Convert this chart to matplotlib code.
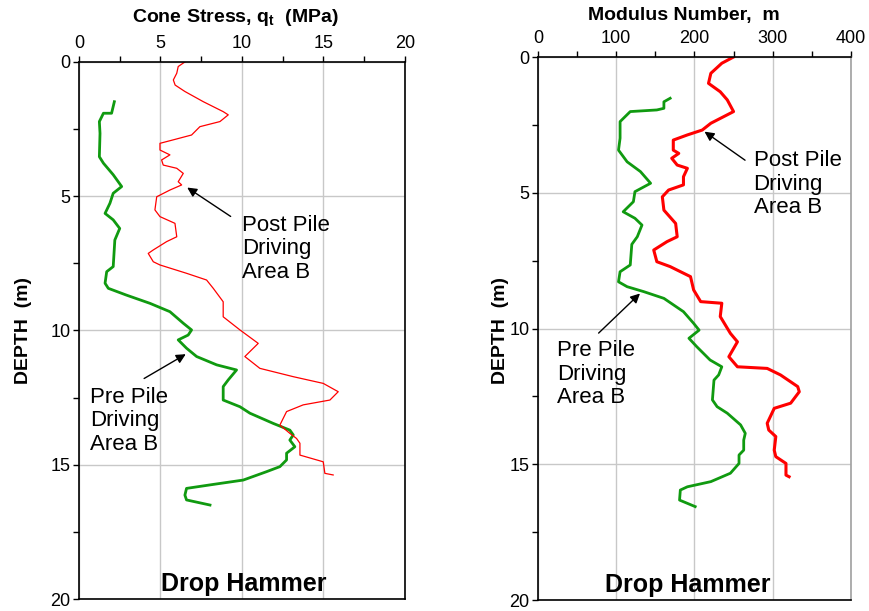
import matplotlib
matplotlib.use("Agg")
import matplotlib.pyplot as plt
from matplotlib.ticker import MultipleLocator

plt.rcParams['font.family'] = ['Liberation Sans', 'DejaVu Sans']
plt.rcParams['mathtext.fontset'] = 'custom'
plt.rcParams['mathtext.rm'] = 'Liberation Sans'
plt.rcParams['mathtext.bf'] = 'Liberation Sans:bold'

# Cone stress, pre pile driving (green)
pre_qt_depth = [1.48, 1.91, 1.91, 2.22, 2.66, 3.53, 3.77, 4.2, 4.64, 4.89, 5.26, 5.64, 5.88,
                6.2, 6.63, 7.62, 7.81, 8.24, 8.43, 8.68, 8.99, 9.3, 9.73, 9.98, 10.17, 10.35,
                10.66, 10.97, 11.28, 11.47, 11.84, 12.09, 12.59, 12.84, 13.08, 13.46, 13.71,
                13.89, 14.08, 14.33, 14.57, 14.82, 15.07, 15.26, 15.57, 15.75, 15.88, 16.13,
                16.31, 16.5]
pre_qt = [2.17, 2.0, 1.5, 1.25, 1.29, 1.25, 1.5, 2.1, 2.62, 2.1, 1.9, 1.6, 2.1,
          2.5, 2.2, 2.1, 1.7, 1.6, 1.8, 2.9, 4.36, 5.58, 6.4, 6.91, 6.7, 6.09,
          6.6, 7.22, 8.45, 9.67, 9.16, 8.85, 8.85, 9.88, 10.49, 11.92, 12.94,
          13.15, 12.94, 13.25, 12.74, 12.74, 12.33, 11.5, 10.08, 8.04, 6.6, 6.5,
          6.6, 8.04]

# Cone stress, post pile driving (red)
post_qt_depth = [0, 0.17, 0.42, 0.67, 0.86, 1.1, 1.48, 1.85, 1.97, 2.22, 2.41, 2.72, 2.9,
                 3.03, 3.28, 3.46, 3.65, 3.84, 3.96, 4.15, 4.46, 4.58, 4.77, 5.02, 5.51,
                 5.76, 6.01, 6.51, 6.69, 7.0, 7.13, 7.44, 7.56, 7.87, 8.12, 8.43, 8.93,
                 9.49, 9.98, 10.48, 10.97, 11.41, 11.72, 11.97, 12.28, 12.59, 12.77, 13.02,
                 13.52, 13.83, 14.02, 14.2, 14.64, 14.89, 15.32, 15.38]
post_qt = [6.5, 6.09, 6.0, 5.79, 5.9, 6.5, 7.63, 8.85, 9.16, 8.65, 7.42, 6.91, 5.79,
           4.97, 4.97, 5.58, 5.07, 5.17, 6.0, 6.4, 6.09, 6.3, 5.58, 4.77, 4.66,
           4.97, 5.89, 6.0, 5.38, 4.56, 4.25, 4.56, 4.97, 6.6, 7.83, 8.24, 8.85,
           8.85, 9.88, 11.0, 10.18, 11.1, 13.15, 14.99, 15.91, 15.4, 13.76, 12.74,
           12.33, 12.94, 13.35, 13.56, 13.56, 14.99, 15.09, 15.6]

# Modulus number, pre pile driving (green)
pre_m_depth = [1.52, 1.65, 1.89, 1.95, 2.01, 2.38, 2.99, 3.43, 3.86, 4.22, 4.65, 4.96, 5.33,
               5.7, 5.94, 6.19, 6.62, 6.9, 7.66, 7.91, 8.28, 8.46, 8.64, 8.89, 9.38, 9.81,
               10.06, 10.36, 10.67, 11.16, 11.41, 11.71, 11.9, 12.63, 12.88, 13.12, 13.55,
               13.86, 14.11, 14.48, 14.66, 14.97, 15.33, 15.64, 15.83, 15.95, 16.32, 16.56]
pre_m = [169, 161, 161, 152, 118, 105, 105, 103, 114, 131, 144, 124, 122,
         109, 124, 133, 127, 120, 118, 105, 103, 114, 135, 161, 186, 199,
         206, 193, 203, 220, 235, 231, 225, 223, 229, 242, 259,
         265, 263, 263, 257, 257, 246, 221, 191, 182, 181, 201]

# Modulus number, post pile driving (red)
post_m_depth = [0, 0.23, 0.6, 0.97, 1.28, 1.58, 2.01, 2.44, 2.69, 2.87, 3.06, 3.43, 3.55,
                3.73, 3.98, 4.1, 4.41, 4.71, 4.9, 5.15, 5.64, 6.13, 6.62, 6.8, 7.11, 7.54,
                7.72, 8.09, 8.58, 9.01, 9.07, 9.56, 10.18, 10.49, 11.04, 11.41, 11.47,
                11.71, 12.14, 12.33, 12.75, 12.94, 13.49, 13.74, 13.98, 14.48, 14.72,
                14.97, 15.4, 15.46]
post_m = [250, 235, 221, 218, 233, 242, 250, 221, 210, 191, 173, 173, 180,
          171, 178, 191, 186, 186, 167, 159, 161, 176, 178, 165, 148, 152,
          169, 195, 199, 208, 235, 233, 246, 255, 244, 255, 293,
          310, 332, 334, 323, 302, 293, 295, 304, 302, 304,
          317, 317, 321]

GREEN = '#109a10'
RED = '#ff0000'

fig = plt.figure(figsize=(8.69, 6.11), dpi=100)
ax1 = fig.add_axes([0.0909, 0.0196, 0.375, 0.879])
ax2 = fig.add_axes([0.619, 0.018, 0.3602, 0.8887])


def style_axis(ax, xmax, xmajor, xminor):
    ax.set_xlim(0, xmax)
    ax.set_ylim(20, 0)
    ax.xaxis.tick_top()
    ax.xaxis.set_major_locator(MultipleLocator(xmajor))
    ax.xaxis.set_minor_locator(MultipleLocator(xminor))
    ax.yaxis.set_major_locator(MultipleLocator(5))
    ax.yaxis.set_minor_locator(MultipleLocator(2.5))
    ax.tick_params(which='both', direction='out', length=4, width=1, labelsize=13,
                   top=True, bottom=False, left=True, right=False, pad=3)
    ax.tick_params(axis='y', pad=2)
    ax.grid(True, which='major', color='#c8c8c8', linewidth=1)
    ax.set_axisbelow(True)
    for s in ax.spines.values():
        s.set_linewidth(1.2)


style_axis(ax1, 20, 5, 2.5)
style_axis(ax2, 400, 100, 50)
ax2.spines['right'].set_color('#a0a0a0')

# Left panel: cone stress
ax1.plot(pre_qt, pre_qt_depth, color=GREEN, linewidth=2.0)
ax1.plot(post_qt, post_qt_depth, color=RED, linewidth=0.9)

ax1.text(0.48, 1.082, r'Cone Stress, $\mathbf{q_t}$  (MPa)', transform=ax1.transAxes,
         ha='center', va='center', fontsize=14, fontweight='bold')
ax1.text(-0.17, 0.5, 'DEPTH  (m)', transform=ax1.transAxes, rotation=90,
         ha='center', va='center', fontsize=14, fontweight='bold')

ax1.text(10.0, 6.96, 'Post Pile\nDriving\nArea B', ha='left', va='center',
         fontsize=16, linespacing=1.15)
ax1.annotate('', xy=(6.5, 4.62), xytext=(9.45, 5.81),
             arrowprops=dict(arrowstyle='-|>', color='black', lw=1, mutation_scale=14))
ax1.text(0.67, 13.37, 'Pre Pile\nDriving\nArea B', ha='left', va='center',
         fontsize=16, linespacing=1.15)
ax1.annotate('', xy=(6.7, 10.83), xytext=(3.85, 11.84),
             arrowprops=dict(arrowstyle='-|>', color='black', lw=1, mutation_scale=14))
ax1.text(10.1, 19.44, 'Drop Hammer', ha='center', va='center',
         fontsize=18, fontweight='bold')

# Right panel: modulus number
ax2.plot(pre_m, pre_m_depth, color=GREEN, linewidth=2.0)
ax2.plot(post_m, post_m_depth, color=RED, linewidth=2.2)

ax2.text(0.466, 1.077, 'Modulus Number,  m', transform=ax2.transAxes,
         ha='center', va='center', fontsize=14, fontweight='bold')
ax2.text(-0.118, 0.497, 'DEPTH  (m)', transform=ax2.transAxes, rotation=90,
         ha='center', va='center', fontsize=14, fontweight='bold')

ax2.text(275.6, 4.68, 'Post Pile\nDriving\nArea B', ha='left', va='center',
         fontsize=16, linespacing=1.15)
ax2.annotate('', xy=(210, 2.69), xytext=(267.6, 3.86),
             arrowprops=dict(arrowstyle='-|>', color='black', lw=1, mutation_scale=14))
ax2.text(24, 11.68, 'Pre Pile\nDriving\nArea B', ha='left', va='center',
         fontsize=16, linespacing=1.15)
ax2.annotate('', xy=(133, 8.64), xytext=(75, 10.24),
             arrowprops=dict(arrowstyle='-|>', color='black', lw=1, mutation_scale=14))
ax2.text(191.7, 19.45, 'Drop Hammer', ha='center', va='center',
         fontsize=18, fontweight='bold')

fig.savefig('out.png', dpi=100)
